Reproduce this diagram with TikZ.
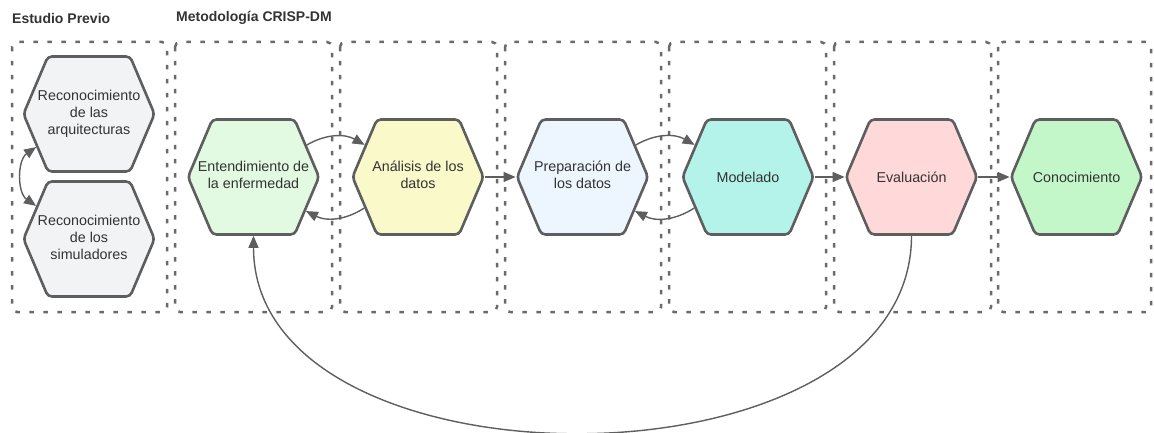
\documentclass[tikz,border=0pt]{standalone}
\usepackage{fontspec}
\setmainfont{Liberation Sans}
\usetikzlibrary{shapes.symbols,arrows.meta,calc}
\definecolor{edge}{HTML}{5E5E5E}
\definecolor{dash}{HTML}{6A6A6A}
\definecolor{txt}{HTML}{333333}
\definecolor{cgray}{HTML}{F2F3F5}
\definecolor{cent}{HTML}{E2F9E2}
\definecolor{cana}{HTML}{FAF9C9}
\definecolor{cprep}{HTML}{EDF5FF}
\definecolor{cmod}{HTML}{B3F3E9}
\definecolor{ceva}{HTML}{FFD9DA}
\definecolor{ccon}{HTML}{C3F7C9}
\tikzset{
  hexa/.style={signal, signal to=east and west, signal pointer angle=134,
    draw=edge, line width=2.6pt, rounded corners=4pt,
    minimum width=131pt, minimum height=115pt, inner sep=0pt,
    text=txt, font=\fontsize{14.3}{17}\selectfont},
  dbox/.style={draw=dash, line width=2.5pt, dash pattern=on 4.5pt off 9.5pt, rounded corners=5pt},
  arr/.style={draw=edge, line width=1.4pt, -{Triangle[length=12pt,width=10pt]}},
  arrb/.style={draw=edge, line width=1.4pt, {Triangle[length=12pt,width=10pt]}-{Triangle[length=12pt,width=10pt]}},
  ttl/.style={anchor=west, text=txt, font=\fontsize{14}{16}\selectfont\bfseries, inner sep=0pt}
}
\newcommand{\hx}[1]{\makebox[0pt]{\raisebox{-2.5pt}{\begin{tabular}{@{}c@{}}#1\end{tabular}}}}
\newcommand{\hxone}[1]{\makebox[0pt]{#1}}
\begin{document}
\begin{tikzpicture}[x=1pt,y=-1pt]
\useasboundingbox (0,0) rectangle (1154,433);
% titles
\node[ttl] (t1) at (12,18) {Estudio Previo};
\node[ttl] (t2) at (176,18) {Metodología CRISP-DM};
% dashed boxes
\foreach \l/\r in {12/167,175/332,340/497,505/661,669/826,834/991,998/1151}{
  \draw[dbox] (\l,42) rectangle (\r,312);
}
% hexagons
\node[hexa, fill=cgray] (g1) at (89,114) {\hx{Reconocimiento\\de las\\arquitecturas}};
\node[hexa, fill=cgray] (g2) at (89,239) {\hx{Reconocimiento\\de los\\simuladores}};
\node[hexa, fill=cent] (ent) at (253.5,177) {\hx{Entendimiento de\\la enfermedad}};
\node[hexa, fill=cana] (ana) at (418,177) {\hx{Análisis de los\\datos}};
\node[hexa, fill=cprep] (prep) at (582.5,177) {\hx{Preparación de\\los datos}};
\node[hexa, fill=cmod] (mod) at (748,177) {\hxone{Modelado}};
\node[hexa, fill=ceva] (eva) at (911.5,177) {\hxone{Evaluación}};
\node[hexa, fill=ccon] (con) at (1076.5,177) {\hxone{Conocimiento}};
% connectors
\draw[arrb] (g1.-148) to[bend right=55] (g2.148);
\draw[arr] (ent.31) to[bend left=30] (ana.149);
\draw[arr] (ana.-150) to[bend left=30] (ent.-33);
\draw[arr] (ana.east) -- (prep.west);
\draw[arr] (prep.31) to[bend left=30] (mod.149);
\draw[arr] (mod.-150) to[bend left=30] (prep.-33);
\draw[arr] (mod.east) -- (eva.west);
\draw[arr] (eva.east) -- (con.west);
\draw[arr] (eva.south) .. controls +(0,262) and +(0,262) .. (ent.south);
\end{tikzpicture}
\end{document}
